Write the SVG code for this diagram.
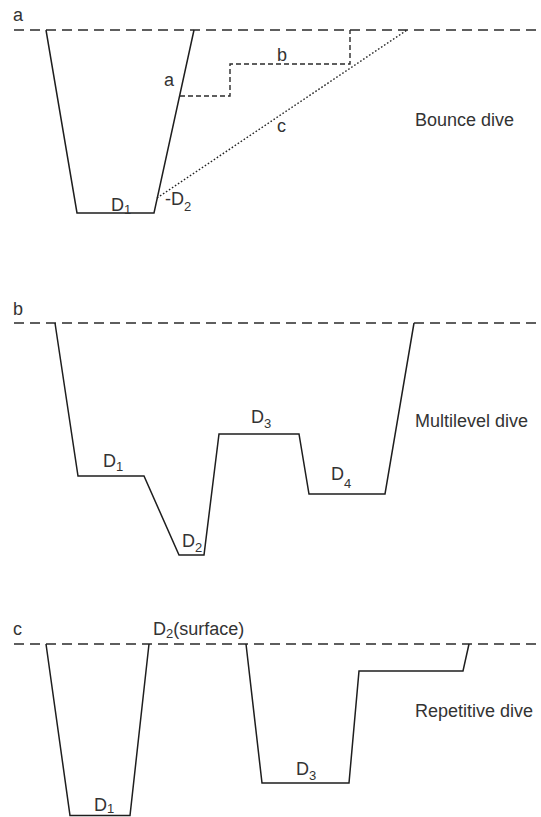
<svg xmlns="http://www.w3.org/2000/svg" width="541" height="817" viewBox="0 0 541 817">
<style>
.surf{stroke:#2a2a2a;stroke-width:1.4;stroke-dasharray:10 6;fill:none}
.prof{stroke:#1e1e1e;stroke-width:1.5;fill:none;stroke-linejoin:miter}
.dash{stroke:#2a2a2a;stroke-width:1.4;stroke-dasharray:5 3;fill:none}
.dot{stroke:#222;stroke-width:1.4;stroke-dasharray:1.6 2;fill:none}
text{font-family:"Liberation Sans",Arial,sans-serif;font-size:18px;fill:#333}
.sub{font-size:13px}
</style>
<rect width="541" height="817" fill="#fff"/>
<g id="panel-a">
<line class="surf" x1="14" y1="30" x2="541" y2="30"/>
<text x="13" y="21">a</text>
<polyline class="prof" points="46,30 77,213 154,213 194,30"/>
<polyline class="dash" points="180,96 230,96 230,64 350,64 350,30"/>
<line class="dot" x1="157" y1="198" x2="407" y2="30"/>
<text x="164" y="86">a</text>
<text x="277" y="61">b</text>
<text x="277" y="132">c</text>
<text x="111" y="211">D<tspan class="sub" dy="3">1</tspan></text>
<text x="165" y="205">-D<tspan class="sub" dy="6">2</tspan></text>
<text x="415" y="126">Bounce dive</text>
</g>
<g id="panel-b">
<line class="surf" x1="14" y1="323" x2="541" y2="323"/>
<text x="13" y="315">b</text>
<polyline class="prof" points="55,323 78,476 144,476 179,555 204,555 219,434 299,434 309,494 385,494 414,323"/>
<text x="103" y="467">D<tspan class="sub" dy="4">1</tspan></text>
<text x="182" y="547">D<tspan class="sub" dy="5">2</tspan></text>
<text x="251" y="423">D<tspan class="sub" dy="5">3</tspan></text>
<text x="331" y="480">D<tspan class="sub" dy="8">4</tspan></text>
<text x="415" y="427">Multilevel dive</text>
</g>
<g id="panel-c">
<line class="surf" x1="14" y1="644" x2="541" y2="644"/>
<text x="13" y="635">c</text>
<polyline class="prof" points="46,644 70,815.5 130,815.5 149,644"/>
<polyline class="prof" points="246,644 262,783 349,783 359,671 463,671 469,644"/>
<text x="153" y="635">D<tspan class="sub" dy="3">2</tspan><tspan dy="-3">(surface)</tspan></text>
<text x="94" y="811">D<tspan class="sub" dy="2">1</tspan></text>
<text x="296" y="775">D<tspan class="sub" dy="5">3</tspan></text>
<text x="415" y="717">Repetitive dive</text>
</g>
</svg>
